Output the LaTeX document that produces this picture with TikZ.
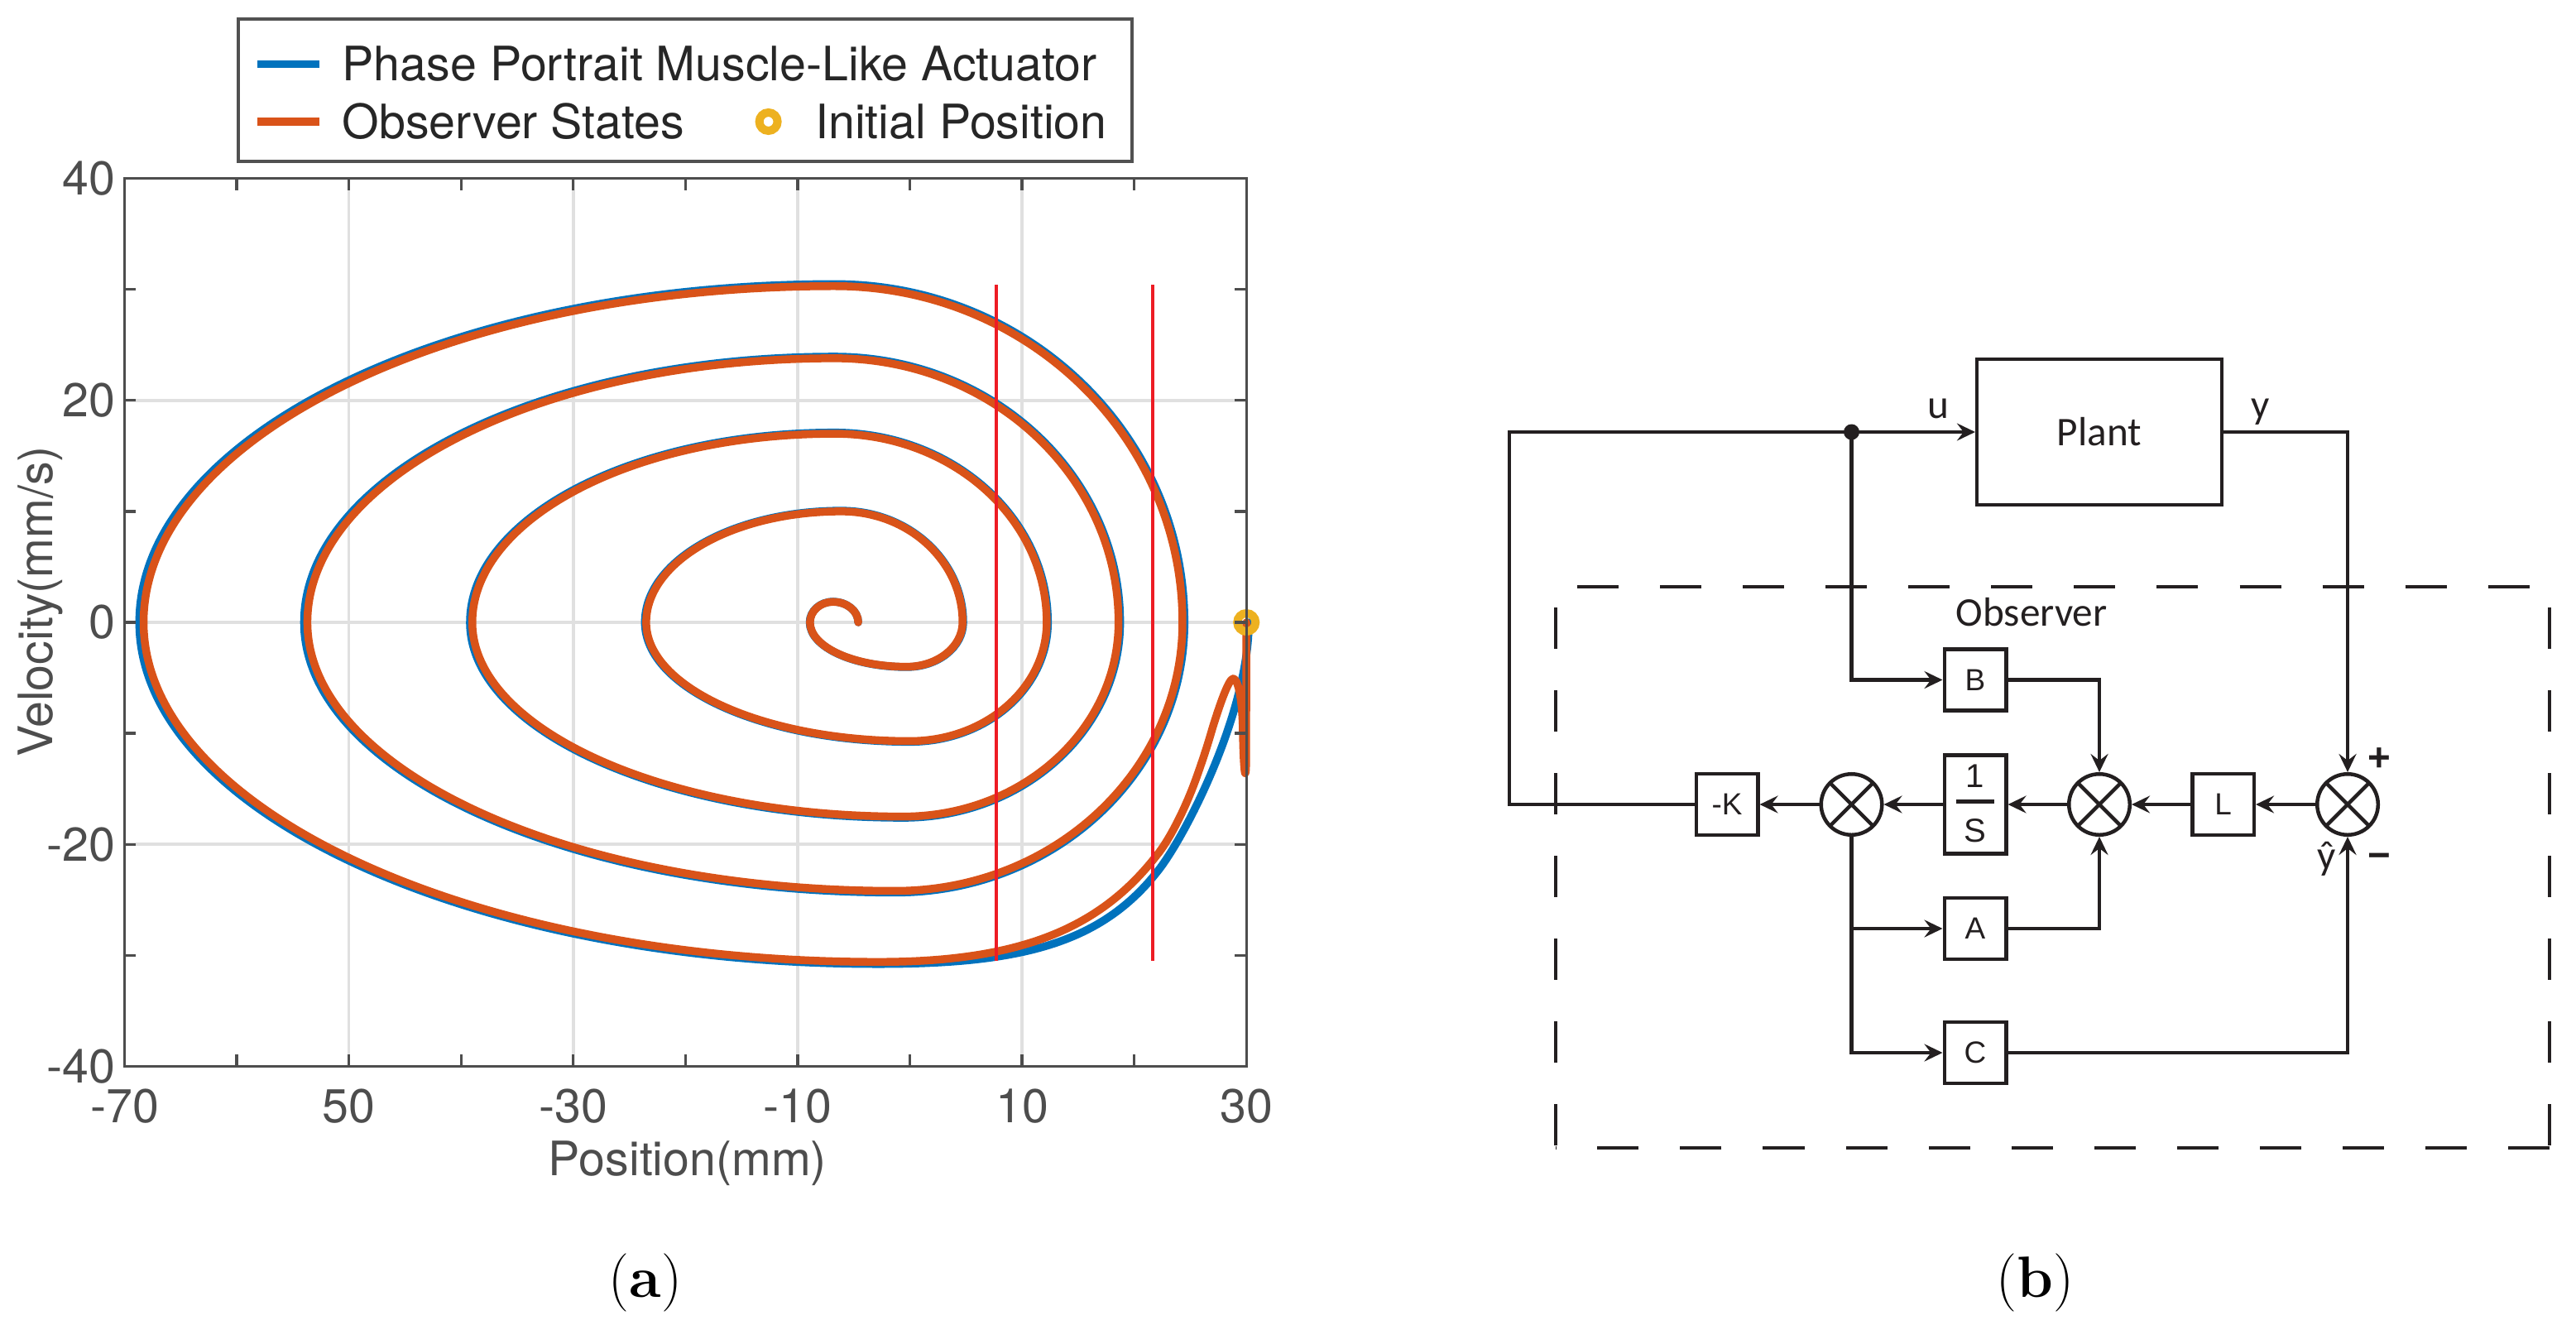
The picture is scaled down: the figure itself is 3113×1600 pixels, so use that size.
\documentclass[tikz,border=0pt]{standalone}
\usepackage{fontspec}
\usetikzlibrary{arrows.meta}

\newfontfamily\plotfont{TeX Gyre Heros}
\newfontfamily\diagfont{Carlito}
\newfontfamily\blkfont{Liberation Sans}

\definecolor{mblue}{HTML}{0072BD}
\definecolor{morange}{HTML}{D95319}
\definecolor{myellow}{HTML}{EDB120}
\definecolor{axisgray}{HTML}{4D4D4D}
\definecolor{gridgray}{HTML}{E0E0E0}
\definecolor{markred}{HTML}{ED1C24}
\definecolor{legendtext}{HTML}{262626}
\definecolor{ink}{HTML}{231F20}

\tikzset{
    gridline/.style={draw=gridgray, line width=0.035cm},
    axisline/.style={draw=axisgray, line width=0.033cm},
    redmark/.style={draw=markred, line width=0.033cm},
    truetraj/.style={draw=mblue, line width=0.095cm, line cap=round, line join=round},
    obstraj/.style={draw=morange, line width=0.095cm, line cap=round, line join=round},
    initmark/.style={draw=myellow, line width=0.1cm},
    ticklabel/.style={font=\plotfont\fontsize{16.3}{19}\selectfont, text=axisgray, inner sep=0pt},
    legendlabel/.style={font=\plotfont\fontsize{16.3}{19}\selectfont, text=legendtext, inner sep=0pt, anchor=base west},
    spiral tail/.style={insert path={
        arc[start angle=-90, end angle=-180, x radius=65.5, y radius=30.6]
        arc[start angle=180, end angle=90, x radius=61.6, y radius=30.3]
        arc[start angle=90, end angle=0, x radius=31, y radius=30.3]
        arc[start angle=0, end angle=-90, x radius=25.6, y radius=24.2]
        arc[start angle=-90, end angle=-180, x radius=52.4, y radius=24.2]
        arc[start angle=180, end angle=90, x radius=47, y radius=23.8]
        arc[start angle=90, end angle=0, x radius=25.3, y radius=23.8]
        arc[start angle=0, end angle=-90, x radius=19.2, y radius=17.5]
        arc[start angle=-90, end angle=-180, x radius=38.4, y radius=17.5]
        arc[start angle=180, end angle=90, x radius=32.3, y radius=17]
        arc[start angle=90, end angle=0, x radius=18.9, y radius=17]
        arc[start angle=0, end angle=-90, x radius=12.2, y radius=10.7]
        arc[start angle=-90, end angle=-180, x radius=23.5, y radius=10.7]
        arc[start angle=180, end angle=90, x radius=17.4, y radius=10]
        arc[start angle=90, end angle=0, x radius=10.8, y radius=10]
        arc[start angle=0, end angle=-90, x radius=5, y radius=4]
        arc[start angle=-90, end angle=-180, x radius=8.6, y radius=4]
        arc[start angle=180, end angle=90, x radius=2.05, y radius=1.85]
        arc[start angle=90, end angle=0, x radius=2.25, y radius=1.85]}},
    wire/.style={draw=ink, line width=0.045cm},
    sig/.style={wire, -{Stealth[length=0.22cm, width=0.21cm, inset=0.08cm]}},
    gainbox/.style={draw=ink, line width=0.045cm, minimum width=0.745cm, minimum height=0.735cm,
        inner sep=0pt, text=ink, font=\blkfont\fontsize{10.5}{12}\selectfont},
    sumjoint/.style={circle, draw=ink, line width=0.045cm, minimum size=0.735cm, inner sep=0pt,
        path picture={\draw[ink, line width=0.045cm]
            (path picture bounding box.south west) -- (path picture bounding box.north east)
            (path picture bounding box.north west) -- (path picture bounding box.south east);}},
    diaglabel/.style={font=\diagfont\fontsize{14}{16}\selectfont, text=ink, inner sep=0pt},
    signlabel/.style={font=\blkfont\bfseries\fontsize{13.5}{15}\selectfont, text=ink, inner sep=0pt},
    observerbox/.style={draw=ink, line width=0.04cm, dash pattern=on 0.5cm off 0.5cm},
}

\begin{document}
\begin{tikzpicture}[x=0.01cm, y=-0.01cm]
    \useasboundingbox (0,0) rectangle (3113,1600);

    % Legend
    \draw[axisline, draw=legendtext!80] (288,23) rectangle (1368,195);
    \draw[truetraj, line cap=butt] (311,77.5) -- (386,77.5);
    \node[legendlabel] (ltrue) at (413,98) {Phase Portrait Muscle-Like Actuator};
    \draw[obstraj, line cap=butt] (311,147) -- (386,147);
    \node[legendlabel] (lobs) at (413,167) {Observer States};
    \draw[initmark] (928.6,147) circle[radius=11];
    \node[legendlabel] (linit) at (984.7,167) {Initial Position};

    % Phase plot, data coordinates
    \begin{scope}[shift={(1099.5,752)}, x=0.1355cm, y=0.134cm]
        \foreach \gx in {-50,-30,-10,10}
            \draw[gridline] (\gx,-40) -- (\gx,40);
        \foreach \gy in {-20,0,20}
            \draw[gridline] (-70,\gy) -- (30,\gy);

        % True and observed trajectories
        \draw[truetraj, scale around={1.006:(-4.7,0)}] (30,0)
            .. controls (30,-8) and (24.5,-18.95) .. (22,-22.2)
            .. controls (17,-28.7) and (10,-30.6) .. (-2.8,-30.6) [spiral tail];
        \draw[obstraj] (30,0) -- (29.97,-12.6)
            .. controls (29.96,-14.4) and (29.75,-14) .. (29.68,-9.55)
            .. controls (29.6,-6.5) and (29.2,-5.07) .. (28.82,-5.07)
            .. controls (28.4,-5.07) and (27.5,-7.8) .. (26.97,-9.55)
            .. controls (26.5,-11.2) and (26.1,-12.4) .. (25.62,-13.78)
            .. controls (24.5,-17) and (23,-19.8) .. (22,-21)
            .. controls (17,-27.5) and (10,-30.6) .. (-2.8,-30.6) [spiral tail];

        \draw[redmark] (7.7,-30.5) -- (7.7,30.4);
        \draw[redmark] (21.65,-30.5) -- (21.65,30.4);

        \coordinate (x0) at (30,0);
        \draw[initmark] (x0) circle[radius=0.11cm];

        % Axes box and ticks
        \draw[axisline] (-70,-40) rectangle (30,40);
        \foreach \tx in {-60,-50,...,20} {
            \draw[axisline] (\tx,-40) -- ++(0,1.045);
            \draw[axisline] (\tx,40) -- ++(0,-1.045);
        }
        \foreach \ty in {-30,-20,...,30} {
            \draw[axisline] (-70,\ty) -- ++(1.03,0);
            \draw[axisline] (30,\ty) -- ++(-1.03,0);
        }
        \foreach \tx/\tl in {-70/-70,-50/50,-30/-30,-10/-10,10/10,30/30}
            \node[ticklabel, anchor=base] at (\tx,-45.07) {\tl};
        \foreach \ty in {-40,-20,0,20,40}
            \node[ticklabel, anchor=east] at (-70.8,\ty) {\ty};
    \end{scope}

    \node[ticklabel, anchor=base] (xlab) at (831,1420.5) {Position(mm)};
    \node[ticklabel, anchor=base, rotate=90] (ylab) at (64,727) {Velocity(mm/s)};
    \node[font=\fontsize{20}{24}\selectfont] (capa) at (780,1550) {(\textbf{a})};

    % Observer block diagram
    \draw[observerbox, dash phase=0.74cm] (1880,709) -- (3081,709);
    \draw[observerbox, dash phase=0.75cm] (1880,709) -- (1880,1386.5);
    \draw[observerbox, dash phase=0.75cm] (3081,709) -- (3081,1386.5);
    \draw[observerbox] (3081,1386.5) -- (1880,1386.5);
    \node[diaglabel] (obslab) at (2455,740) {Observer};

    \node[gainbox, minimum width=2.955cm, minimum height=1.755cm, font=\diagfont\fontsize{14}{16}\selectfont] (plant) at (2537,522) {Plant};
    \node[gainbox] (kgain) at (2087,972) {-K};
    \node[sumjoint] (sum1) at (2237.5,972) {};
    \node[gainbox, minimum height=1.185cm] (integ) at (2387,972) {};
    \node[sumjoint] (sum2) at (2537,972) {};
    \node[gainbox] (lgain) at (2686.5,972) {L};
    \node[sumjoint] (sum3) at (2837,972) {};
    \node[gainbox] (bgain) at (2387,821.5) {B};
    \node[gainbox] (again) at (2387,1122) {A};
    \node[gainbox] (cgain) at (2387,1272) {C};

    \node[font=\blkfont\fontsize{11.4}{13}\selectfont, text=ink, inner sep=0pt] (integnum) at (2387,937.5) {1};
    \draw[ink, line width=0.05cm] (2364,968.5) -- (2410,968.5);
    \node[font=\blkfont\fontsize{11.4}{13}\selectfont, text=ink, inner sep=0pt] (integden) at (2387,1004) {S};

    \coordinate (lcorner) at (1824,522);
    \coordinate (tap) at (2237.5,522);

    \draw[sig] (kgain.west) -| (lcorner) -- (plant.west);
    \fill[ink] (tap) circle[radius=9.5];
    \draw[sig] (tap) |- (bgain.west);
    \draw[sig] (bgain.east) -| (sum2.north);
    \draw[sig] (plant.east) -| (sum3.north);
    \draw[sig] (sum3.west) -- (lgain.east);
    \draw[sig] (lgain.west) -- (sum2.east);
    \draw[sig] (sum2.west) -- (integ.east);
    \draw[sig] (integ.west) -- (sum1.east);
    \draw[sig] (sum1.west) -- (kgain.east);
    \draw[sig] (sum1.south) |- (cgain.west);
    \draw[sig] (sum1.south |- again.west) -- (again.west);
    \draw[sig] (again.east) -| (sum2.south);
    \draw[sig] (cgain.east) -| (sum3.south);

    \node[diaglabel, anchor=base] (ulab) at (2342,505) {u};
    \node[diaglabel, anchor=base] (ylabel) at (2732,505) {y};
    \node[diaglabel] (yhatlab) at (2812,1038) {ŷ};
    \node[signlabel] (plus) at (2875,918) {+};
    \node[signlabel] (minus) at (2875,1040) {−};

    \node[font=\fontsize{20}{24}\selectfont] (capb) at (2459,1550) {(\textbf{b})};
\end{tikzpicture}
\end{document}
